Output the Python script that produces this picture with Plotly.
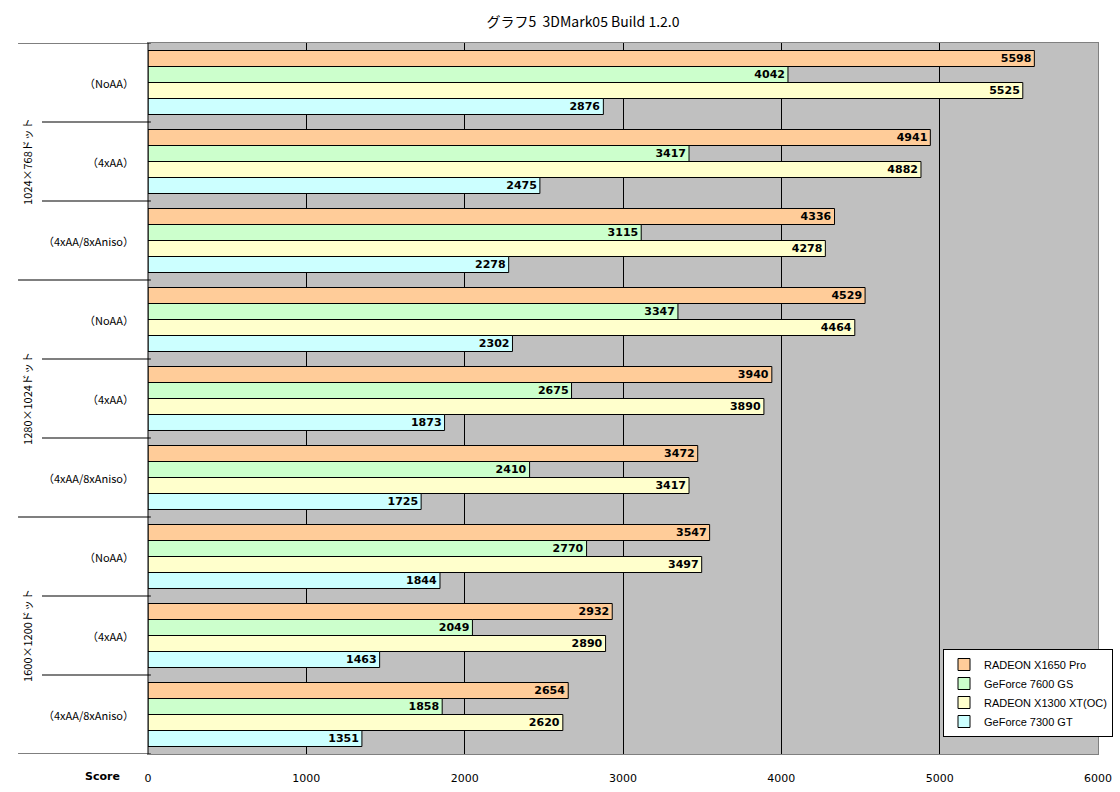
import plotly.graph_objects as go

series_names = ["RADEON X1650 Pro", "GeForce 7600 GS", "RADEON X1300 XT(OC)", "GeForce 7300 GT"]
series_colors = ["#FFCC99", "#CCFFCC", "#FFFFCC", "#CCFFFF"]
resolutions = ["1024×768ドット", "1280×1024ドット", "1600×1200ドット"]
settings = ["（NoAA）", "（4xAA）", "（4xAA/8xAniso）"]

radeon_x1650 = [5598, 4941, 4336, 4529, 3940, 3472, 3547, 2932, 2654]
geforce_7600 = [4042, 3417, 3115, 3347, 2675, 2410, 2770, 2049, 1858]
radeon_x1300 = [5525, 4882, 4278, 4464, 3890, 3417, 3497, 2890, 2620]
geforce_7300 = [2876, 2475, 2278, 2302, 1873, 1725, 1844, 1463, 1351]
x_ticks = [0, 1000, 2000, 3000, 4000, 5000, 6000]

values = [radeon_x1650, geforce_7600, radeon_x1300, geforce_7300]
positions = list(range(len(resolutions) * len(settings)))

font_jp = "Noto Sans CJK JP, DejaVu Sans"
fig = go.Figure()
for name, color, vals in zip(series_names, series_colors, values):
    fig.add_trace(go.Bar(
        y=positions, x=vals, name=name, orientation="h",
        marker=dict(color=color, line=dict(color="black", width=1)),
        text=[str(v) for v in vals], textposition="inside", insidetextanchor="end",
        textangle=0, constraintext="none",
        textfont=dict(family="DejaVu Sans", size=11, color="black", weight="bold"),
        cliponaxis=False,
    ))

annotations = []
shapes = []
n_set = len(settings)
for i, pos in enumerate(positions):
    annotations.append(dict(x=-0.013, xref="paper", y=pos, yref="y", text=settings[i % n_set],
                            showarrow=False, xanchor="right", yanchor="middle",
                            font=dict(family=font_jp, size=11, color="black")))
for r, res in enumerate(resolutions):
    annotations.append(dict(x=-0.128, xref="paper", y=r * n_set + 1, yref="y", text=res,
                            showarrow=False, textangle=-90, xanchor="center", yanchor="middle",
                            font=dict(family=font_jp, size=11, color="black")))
for k in range(len(positions) + 1):
    b = k - 0.5
    long_line = (k % n_set == 0)
    x0 = -0.1368 if long_line else -0.1116
    shapes.append(dict(type="line", xref="paper", yref="y", x0=x0, x1=0.003, y0=b, y1=b,
                       line=dict(color="black", width=1.2)))

annotations.append(dict(x=-0.027, xref="paper", y=-0.032, yref="paper", text="<b>Score</b>",
                        showarrow=False, xanchor="right", yanchor="middle",
                        font=dict(family="DejaVu Sans", size=11, color="black")))

fig.update_layout(
    width=1120, height=792,
    margin=dict(l=148, r=22, t=43, b=38, autoexpand=False),
    paper_bgcolor="white", plot_bgcolor="#C0C0C0",
    barmode="group", bargap=0.19, bargroupgap=0,
    title=dict(text="グラフ5  3DMark05 Build 1.2.0", x=583 / 1120, xanchor="center",
               y=1 - 22 / 792, yanchor="middle",
               font=dict(family=font_jp, size=14, color="black")),
    xaxis=dict(range=[0, 6000], tickvals=x_ticks, showgrid=True, gridcolor="black", gridwidth=1,
               zeroline=False, showline=True, linecolor="#808080", mirror=True,
               ticks="", ticklabelstandoff=14, automargin=False,
               tickfont=dict(family="DejaVu Sans", size=11, color="black")),
    yaxis=dict(range=[len(positions) - 0.5, -0.5], showticklabels=False, showgrid=False,
               zeroline=False, showline=True, linecolor="#808080", mirror=True, ticks="",
               automargin=False),
    legend=dict(x=(1113 - 148) / 950, y=(754 - 737) / 711, xanchor="right", yanchor="bottom",
                bgcolor="white", bordercolor="black", borderwidth=1, traceorder="normal",
                font=dict(family="Liberation Sans", size=11, color="black"),
                itemwidth=30, tracegroupgap=0),
    annotations=annotations, shapes=shapes,
    showlegend=True,
)
fig.add_shape(type="line", xref="x", yref="paper", x0=0, x1=0, y0=0, y1=1,
              line=dict(color="black", width=1))
fig.write_html("out.html")
